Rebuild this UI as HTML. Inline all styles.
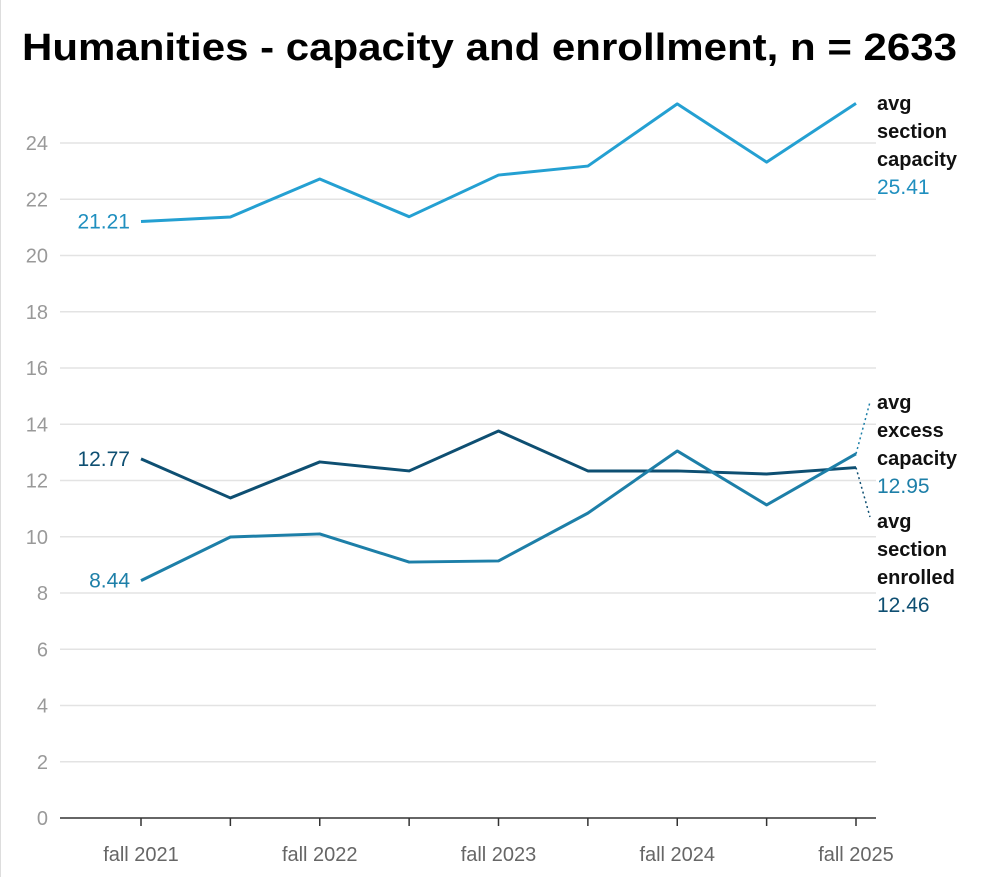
<!DOCTYPE html>
<html><head><meta charset="utf-8"><style>
body{margin:0;background:#fff;width:983px;height:877px;overflow:hidden;font-family:"Liberation Sans",Arial,sans-serif}
</style></head><body>
<svg id="chart" width="983" height="877" xmlns="http://www.w3.org/2000/svg">
<line x1="0.5" y1="0" x2="0.5" y2="877" stroke="#ddd"/>
<text x="22" y="60" font-size="38" font-weight="bold" fill="#000" textLength="935" lengthAdjust="spacingAndGlyphs">Humanities - capacity and enrollment, n = 2633</text>
<g id="grid"></g><g id="axes"></g><g id="lines"></g><g id="labels"></g>
</svg>
<script>
const categories=["fall 2021","spring 2022","fall 2022","spring 2023","fall 2023","spring 2024","fall 2024","spring 2025","fall 2025"];
const xTickLabels=["fall 2021","","fall 2022","","fall 2023","","fall 2024","","fall 2025"];
const capacity=[21.21,21.37,22.72,21.38,22.86,23.18,25.39,23.32,25.41];
const enrolled=[12.77,11.38,12.66,12.34,13.76,12.34,12.34,12.23,12.46];
const excess=[8.44,9.99,10.1,9.1,9.14,10.84,13.05,11.13,12.95];
const yTicks=[0,2,4,6,8,10,12,14,16,18,20,22,24];
const NS="http://www.w3.org/2000/svg";
const x=i=>141+i*(856-141)/(categories.length-1);
const y=v=>818-v*(818-143)/24;
function mk(tag,attrs,parent,text){const e=document.createElementNS(NS,tag);for(const k in attrs)e.setAttribute(k,attrs[k]);if(text!==undefined)e.textContent=text;document.getElementById(parent).appendChild(e);return e;}
yTicks.forEach(t=>{
  if(t>0){const g=mk('line',{x1:60,x2:876,y1:y(t),y2:y(t),stroke:'#e3e3e3','stroke-width':1.5},'grid');
  
  }
  const l=mk('text',{x:48,y:y(t)+7,'font-size':20,fill:'#999','text-anchor':'end'},'axes',String(t));
  
  
});
const ax=mk('line',{x1:60,x2:876,y1:818,y2:818,stroke:'#333','stroke-width':1.5},'axes');


xTickLabels.forEach((s,i)=>{
  const tk=mk('line',{x1:x(i),x2:x(i),y1:818,y2:826,stroke:'#333','stroke-width':1.5},'axes');
  
  
  if(s){const t=mk('text',{x:x(i),y:861,'font-size':20,fill:'#666','text-anchor':'middle'},'axes',s);
  
  }
});
function line(data,color,name){
  const p=mk('polyline',{points:data.map((v,i)=>x(i)+','+y(v)).join(' '),fill:'none',stroke:color,'stroke-width':3,'stroke-linejoin':'round'},'lines');
  
  
}
line(capacity,'#24a0d2','capacity-line');
line(enrolled,'#0e4f72','enrolled-line');
line(excess,'#1d7fa8','excess-line');
function startLabel(v,color,name){
  const t=mk('text',{x:130,y:y(v)+7,'font-size':21,fill:color,'text-anchor':'end'},'labels',v.toFixed(2));
  
  
}
startLabel(capacity[0],'#1f8fbf','capacity-start-label');
startLabel(enrolled[0],'#0e4f72','enrolled-start-label');
startLabel(excess[0],'#1d7fa8','excess-start-label');
function endLabel(lines,val,color,top,name){
  lines.forEach((s,i)=>{const t=mk('text',{x:877,y:top+i*28,'font-size':20,'font-weight':'bold',fill:'#111'},'labels',s);
  
  });
  const t=mk('text',{x:877,y:top+lines.length*28,'font-size':21,fill:color},'labels',val.toFixed(2));
  
  
}
const n=categories.length-1;
endLabel(['avg','section','capacity'],capacity[n],'#1f8fbf',110,'capacity-end-label');
endLabel(['avg','excess','capacity'],excess[n],'#1d7fa8',409,'excess-end-label');
endLabel(['avg','section','enrolled'],enrolled[n],'#0e4f72',528,'enrolled-end-label');
const c1=mk('line',{x1:x(n),y1:y(excess[n]),x2:870,y2:402,stroke:'#1d7fa8','stroke-width':1.5,'stroke-dasharray':'2,3'},'labels');


const c2=mk('line',{x1:x(n),y1:y(enrolled[n]),x2:870,y2:517,stroke:'#0e4f72','stroke-width':1.5,'stroke-dasharray':'2,3'},'labels');


</script>
</body></html>
